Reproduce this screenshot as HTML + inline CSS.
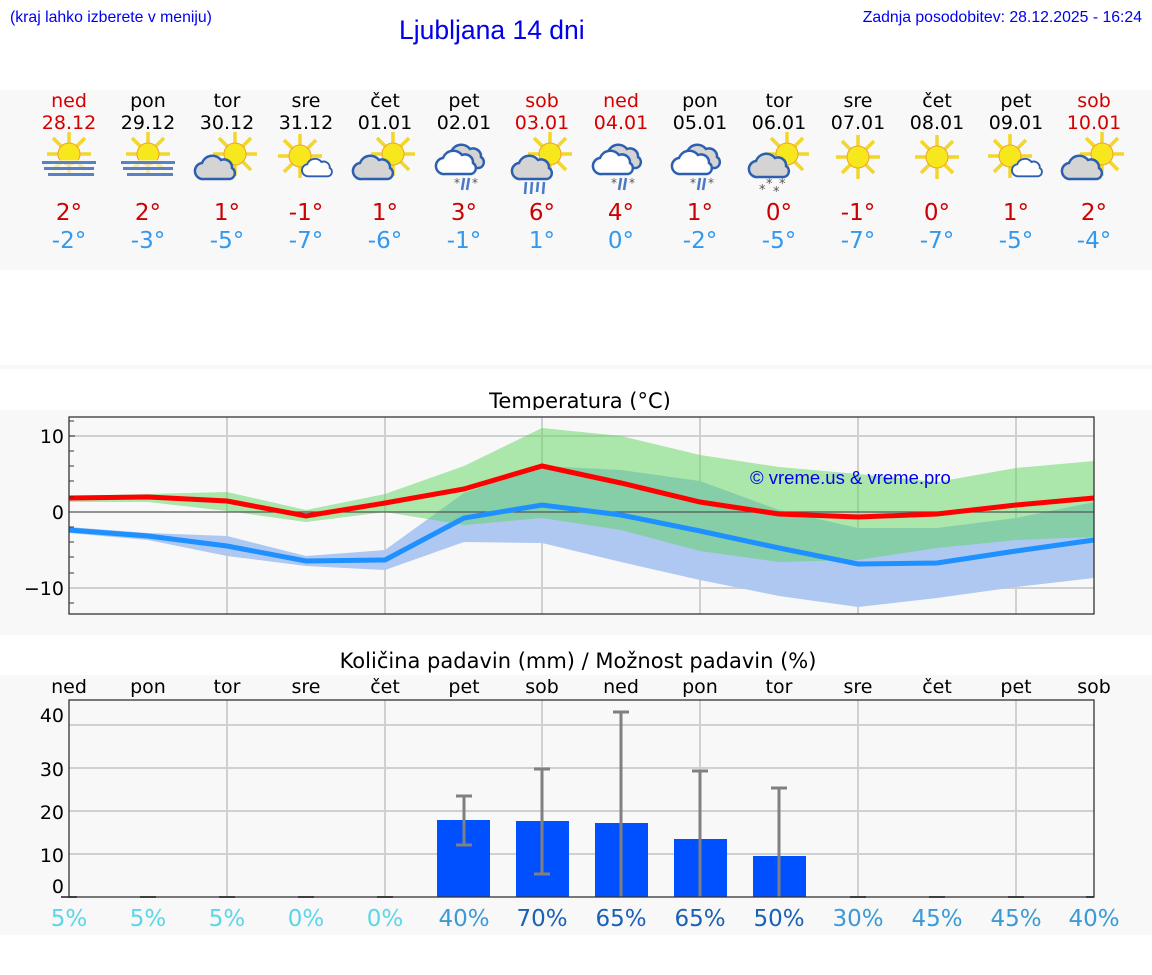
<!DOCTYPE html>
<html><head><meta charset="utf-8"><style>
html,body{margin:0;padding:0;background:#fff;}
svg{display:block;font-family:"DejaVu Sans","Liberation Sans",sans-serif;}
</style></head><body>
<svg width="1152" height="975" viewBox="0 0 1152 975" xmlns="http://www.w3.org/2000/svg">
<defs>
<g id="sun">
 <g stroke="#f2d62a" stroke-width="3.5" stroke-linecap="butt">
  <line x1="0" y1="-11" x2="0" y2="-22"/><line x1="0" y1="11" x2="0" y2="22"/>
  <line x1="-11" y1="0" x2="-22" y2="0"/><line x1="11" y1="0" x2="22" y2="0"/>
  <line x1="8" y1="-8" x2="16" y2="-16"/><line x1="-8" y1="-8" x2="-16" y2="-16"/>
  <line x1="8" y1="8" x2="16" y2="16"/><line x1="-8" y1="8" x2="-16" y2="16"/>
 </g>
 <circle r="11" fill="#f6e81c" stroke="#f0a030" stroke-width="1"/>
</g>
<g id="cloud">
 <path d="M-15,11 a8,8 0 0 1 -2,-16 a11,11 0 0 1 19,-3 a8,8 0 0 1 11,8 a6,6 0 0 1 -2,11 z" fill="#d4d4d4" stroke="#2d5fb0" stroke-width="2.5"/>
</g>
<g id="cloudw">
 <path d="M-15,11 a8,8 0 0 1 -2,-16 a11,11 0 0 1 19,-3 a8,8 0 0 1 11,8 a6,6 0 0 1 -2,11 z" fill="#fff" stroke="#2d5fb0" stroke-width="2.5"/>
</g>
<g id="fogsun">
 <use href="#sun" x="0" y="-4"/>
 <rect x="-26" y="2" width="54" height="20" fill="#f8f8f8" opacity="0.6"/>
 <rect x="-27" y="3" width="54" height="3" fill="#5b82c0"/>
 <rect x="-25" y="9" width="50" height="3" fill="#5b82c0"/>
 <rect x="-21" y="15" width="46" height="3" fill="#5b82c0"/>
</g>
<g id="suncloud">
 <use href="#sun" x="8" y="-6"/>
 <use href="#cloud" x="-8" y="8"/>
</g>
<g id="sunsmall">
 <use href="#sun" x="-6" y="-4"/>
 <g transform="translate(14,8) scale(0.75)"><use href="#cloudw"/></g>
</g>
<g id="rainsnow">
 <g transform="translate(4,-6)"><use href="#cloud"/></g>
 <g transform="translate(-4,0)"><use href="#cloudw"/></g>
 <g stroke="#4a7ac8" stroke-width="2.5"><line x1="0" y1="15" x2="-2" y2="27"/><line x1="5" y1="15" x2="3" y2="27"/></g>
 <text x="-10" y="24" font-size="12" fill="#555">*</text><text x="8" y="24" font-size="12" fill="#555">*</text>
</g>
<g id="sunrain">
 <use href="#sun" x="8" y="-8"/>
 <use href="#cloud" x="-6" y="6"/>
 <g stroke="#4a7ac8" stroke-width="2.5"><line x1="-16" y1="20" x2="-17" y2="32"/><line x1="-10" y1="20" x2="-11" y2="32"/><line x1="-4" y1="20" x2="-5" y2="30"/><line x1="2" y1="20" x2="1" y2="32"/></g>
</g>
<g id="sunsnow">
 <use href="#sun" x="8" y="-8"/>
 <use href="#cloud" x="-6" y="4"/>
 <g font-size="13" fill="#555"><text x="-20" y="32">*</text><text x="-13" y="26">*</text><text x="-6" y="34">*</text><text x="0" y="26">*</text></g>
</g>
</defs>

<!-- header -->
<text x="10" y="22" font-size="15.8" fill="#0000ee" font-family="Liberation Sans">(kraj lahko izberete v meniju)</text>
<text x="399" y="39" font-size="26.5" fill="#0000ee" font-family="Liberation Sans">Ljubljana 14 dni</text>
<text x="1142" y="22" font-size="15.8" fill="#0000ee" text-anchor="end" font-family="Liberation Sans">Zadnja posodobitev: 28.12.2025 - 16:24</text>

<rect x="0" y="90" width="1152" height="180" fill="#f8f8f8"/>
<rect x="0" y="365" width="1152" height="4" fill="#f8f8f8"/>

<g font-size="19" text-anchor="middle">
<text x="69" y="107" fill="#d40000">ned</text><text x="69" y="129" fill="#d40000">28.12</text>
<text x="148" y="107">pon</text><text x="148" y="129">29.12</text>
<text x="227" y="107">tor</text><text x="227" y="129">30.12</text>
<text x="306" y="107">sre</text><text x="306" y="129">31.12</text>
<text x="385" y="107">čet</text><text x="385" y="129">01.01</text>
<text x="464" y="107">pet</text><text x="464" y="129">02.01</text>
<text x="542" y="107" fill="#d40000">sob</text><text x="542" y="129" fill="#d40000">03.01</text>
<text x="621" y="107" fill="#d40000">ned</text><text x="621" y="129" fill="#d40000">04.01</text>
<text x="700" y="107">pon</text><text x="700" y="129">05.01</text>
<text x="779" y="107">tor</text><text x="779" y="129">06.01</text>
<text x="858" y="107">sre</text><text x="858" y="129">07.01</text>
<text x="937" y="107">čet</text><text x="937" y="129">08.01</text>
<text x="1016" y="107">pet</text><text x="1016" y="129">09.01</text>
<text x="1094" y="107" fill="#d40000">sob</text><text x="1094" y="129" fill="#d40000">10.01</text>
</g>

<use href="#fogsun" x="69" y="158"/>
<use href="#fogsun" x="148" y="158"/>
<use href="#suncloud" x="227" y="160"/>
<use href="#sunsmall" x="306" y="160"/>
<use href="#suncloud" x="385" y="160"/>
<use href="#rainsnow" x="464" y="163"/>
<use href="#sunrain" x="542" y="162"/>
<use href="#rainsnow" x="621" y="163"/>
<use href="#rainsnow" x="700" y="163"/>
<use href="#sunsnow" x="779" y="162"/>
<use href="#sun" x="858" y="157"/>
<use href="#sun" x="937" y="157"/>
<use href="#sunsmall" x="1016" y="160"/>
<use href="#suncloud" x="1094" y="160"/>

<g font-size="23" text-anchor="middle" fill="#cc0000">
<text x="69" y="220">2°</text><text x="148" y="220">2°</text><text x="227" y="220">1°</text><text x="306" y="220">-1°</text><text x="385" y="220">1°</text><text x="464" y="220">3°</text><text x="542" y="220">6°</text><text x="621" y="220">4°</text><text x="700" y="220">1°</text><text x="779" y="220">0°</text><text x="858" y="220">-1°</text><text x="937" y="220">0°</text><text x="1016" y="220">1°</text><text x="1094" y="220">2°</text>
</g>
<g font-size="23" text-anchor="middle" fill="#3399ee">
<text x="69" y="248">-2°</text><text x="148" y="248">-3°</text><text x="227" y="248">-5°</text><text x="306" y="248">-7°</text><text x="385" y="248">-6°</text><text x="464" y="248">-1°</text><text x="542" y="248">1°</text><text x="621" y="248">0°</text><text x="700" y="248">-2°</text><text x="779" y="248">-5°</text><text x="858" y="248">-7°</text><text x="937" y="248">-7°</text><text x="1016" y="248">-5°</text><text x="1094" y="248">-4°</text>
</g>

<!-- temperature -->
<text x="580" y="408" font-size="21" text-anchor="middle">Temperatura (°C)</text>
<rect x="0" y="410" width="1152" height="225" fill="#f8f8f8"/>
<g stroke="#d0d0d0" stroke-width="2">
<line x1="69" y1="436" x2="1094" y2="436"/><line x1="69" y1="588" x2="1094" y2="588"/>
<line x1="227" y1="417" x2="227" y2="614"/><line x1="385" y1="417" x2="385" y2="614"/><line x1="542" y1="417" x2="542" y2="614"/><line x1="700" y1="417" x2="700" y2="614"/><line x1="858" y1="417" x2="858" y2="614"/><line x1="1016" y1="417" x2="1016" y2="614"/>
</g>
<polygon fill="#aec8f2" points="69,527 148,533 227,536 306,556 385,550 464,493 542,466 621,470 700,481 779,510 858,528 937,528 1016,518 1094,502 1094,578 1016,587 937,598 858,607 779,596 700,580 621,562 542,543 464,542 385,570 306,566 227,556 148,540 69,533"/>
<polygon fill="#5ed45e" opacity="0.5" points="69,496 148,494 227,492 306,510 385,494 464,466 542,428 621,436 700,455 779,467 858,474 937,482 1016,468 1094,461 1094,537 1016,540 937,548 858,560 779,562 700,551 621,530 542,518 464,525 385,512 306,522 227,511 148,502 69,502"/>
<line x1="69" y1="512" x2="1094" y2="512" stroke="#555" stroke-width="1.3"/>
<polyline fill="none" stroke="#1e90ff" stroke-width="5" points="69,530 148,536 227,546 306,561 385,560 464,518 542,505 621,515 700,531 779,548 858,564 937,563 1016,551 1094,540"/>
<polyline fill="none" stroke="#ff0000" stroke-width="5" points="69,498 148,497 227,501 306,516 385,503 464,489 542,466 621,483 700,502 779,514 858,517 937,514 1016,505 1094,498"/>
<rect x="69" y="417" width="1025" height="197" fill="none" stroke="#333" stroke-width="1.3"/>
<g stroke="#333" stroke-width="1"><line x1="69" y1="421" x2="74" y2="421"/><line x1="69" y1="436" x2="75" y2="436"/><line x1="69" y1="451" x2="74" y2="451"/><line x1="69" y1="466" x2="74" y2="466"/><line x1="69" y1="481" x2="74" y2="481"/><line x1="69" y1="497" x2="74" y2="497"/><line x1="69" y1="527" x2="74" y2="527"/><line x1="69" y1="542" x2="74" y2="542"/><line x1="69" y1="557" x2="74" y2="557"/><line x1="69" y1="573" x2="74" y2="573"/><line x1="69" y1="603" x2="74" y2="603"/></g>
<g font-size="19" text-anchor="end"><text x="64" y="443">10</text><text x="64" y="519">0</text><text x="64" y="595">−10</text></g>
<text x="750" y="484" font-size="18.5" fill="#0000ee" font-family="Liberation Sans">© vreme.us &amp; vreme.pro</text>

<!-- precipitation -->
<text x="578" y="668" font-size="21" text-anchor="middle">Količina padavin (mm) / Možnost padavin (%)</text>
<rect x="0" y="675" width="1152" height="260" fill="#f8f8f8"/>
<g font-size="19" text-anchor="middle">
<text x="69" y="693">ned</text><text x="148" y="693">pon</text><text x="227" y="693">tor</text><text x="306" y="693">sre</text><text x="385" y="693">čet</text><text x="464" y="693">pet</text><text x="542" y="693">sob</text><text x="621" y="693">ned</text><text x="700" y="693">pon</text><text x="779" y="693">tor</text><text x="858" y="693">sre</text><text x="937" y="693">čet</text><text x="1016" y="693">pet</text><text x="1094" y="693">sob</text>
</g>
<g stroke="#d0d0d0" stroke-width="2">
<line x1="69" y1="725" x2="1094" y2="725"/><line x1="69" y1="768" x2="1094" y2="768"/><line x1="69" y1="811" x2="1094" y2="811"/><line x1="69" y1="854" x2="1094" y2="854"/>
<line x1="227" y1="700" x2="227" y2="897"/><line x1="385" y1="700" x2="385" y2="897"/><line x1="542" y1="700" x2="542" y2="897"/><line x1="700" y1="700" x2="700" y2="897"/><line x1="858" y1="700" x2="858" y2="897"/><line x1="1016" y1="700" x2="1016" y2="897"/>
</g>
<g fill="#0050ff">
<rect x="437" y="820" width="53" height="77"/><rect x="516" y="821" width="53" height="76"/><rect x="595" y="823" width="53" height="74"/><rect x="674" y="839" width="53" height="58"/><rect x="753" y="856" width="53" height="41"/>
</g>
<g stroke="#808080" stroke-width="3">
<line x1="464" y1="796" x2="464" y2="845"/><line x1="456" y1="796" x2="472" y2="796"/><line x1="456" y1="845" x2="472" y2="845"/>
<line x1="542" y1="769" x2="542" y2="874"/><line x1="534" y1="769" x2="550" y2="769"/><line x1="534" y1="874" x2="550" y2="874"/>
<line x1="621" y1="712" x2="621" y2="897"/><line x1="613" y1="712" x2="629" y2="712"/>
<line x1="700" y1="771" x2="700" y2="897"/><line x1="692" y1="771" x2="708" y2="771"/>
<line x1="779" y1="788" x2="779" y2="897"/><line x1="771" y1="788" x2="787" y2="788"/>
</g>
<g stroke="#555" stroke-width="2"><line x1="61" y1="897" x2="77" y2="897"/><line x1="140" y1="897" x2="156" y2="897"/><line x1="219" y1="897" x2="235" y2="897"/><line x1="298" y1="897" x2="314" y2="897"/><line x1="377" y1="897" x2="393" y2="897"/><line x1="850" y1="897" x2="866" y2="897"/><line x1="929" y1="897" x2="945" y2="897"/><line x1="1008" y1="897" x2="1024" y2="897"/><line x1="1086" y1="897" x2="1094" y2="897"/></g>
<rect x="69" y="700" width="1025" height="197" fill="none" stroke="#333" stroke-width="1.3"/>
<g font-size="19" text-anchor="end"><text x="64" y="722">40</text><text x="64" y="776">30</text><text x="64" y="819">20</text><text x="64" y="862">10</text><text x="64" y="893">0</text></g>
<g font-size="23" text-anchor="middle">
<text x="69" y="926" fill="#5bd6e8">5%</text><text x="148" y="926" fill="#5bd6e8">5%</text><text x="227" y="926" fill="#5bd6e8">5%</text><text x="306" y="926" fill="#5bd6e8">0%</text><text x="385" y="926" fill="#5bd6e8">0%</text>
<text x="464" y="926" fill="#3a9ad8">40%</text><text x="542" y="926" fill="#1a60b8">70%</text><text x="621" y="926" fill="#1a60b8">65%</text><text x="700" y="926" fill="#1a60b8">65%</text><text x="779" y="926" fill="#1a60b8">50%</text>
<text x="858" y="926" fill="#3a9ad8">30%</text><text x="937" y="926" fill="#3a9ad8">45%</text><text x="1016" y="926" fill="#3a9ad8">45%</text><text x="1094" y="926" fill="#3a9ad8">40%</text>
</g>
</svg>
</body></html>
